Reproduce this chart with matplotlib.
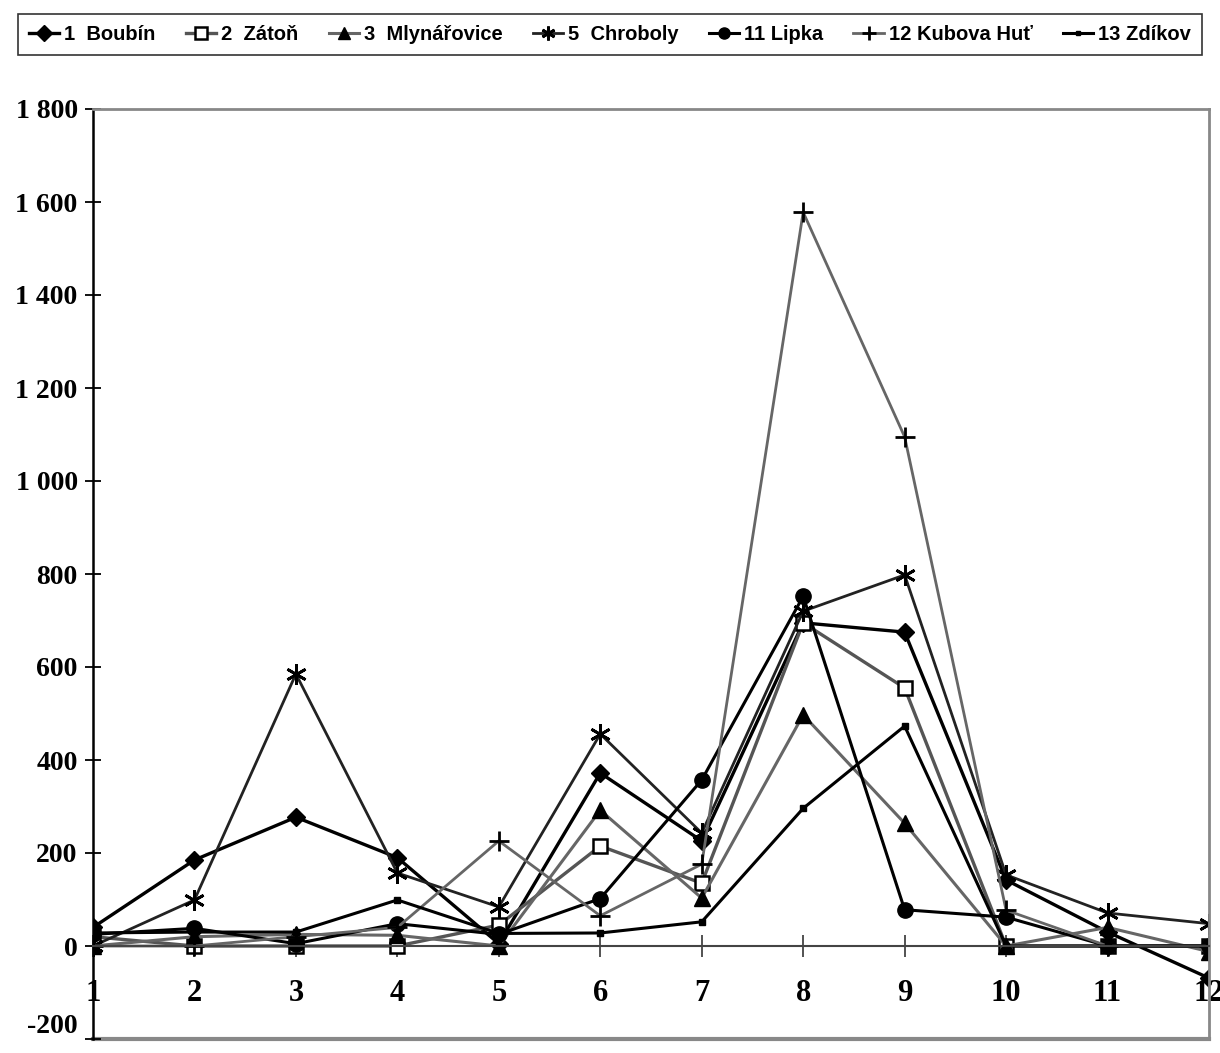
import numpy as np
import matplotlib
matplotlib.use('Agg')
import matplotlib.pyplot as plt
from matplotlib import font_manager

# months / sampling points
x = [1, 2, 3, 4, 5, 6, 7, 8, 9, 10, 11, 12]

boubin = [40, 185, 277, 190, 5, 372, 226, 695, 675, 142, 30, -69]
zaton = [20, 0, 0, 0, 45, 215, 135, 695, 555, 0, 0, 0]
mlynarovice = [0, 20, 25, 23, 0, 292, 103, 497, 264, 0, 40, -12]
chroboly = [0, 99, 585, 157, 84, 456, 243, 720, 798, 153, 71, 48]
lipka = [25, 38, 5, 48, 25, 102, 357, 752, 78, 62, 0, 0]
kubova = [0, 0, 20, 40, 226, 65, 176, 1578, 1095, 77, 0, 0]
zdikov = [28, 30, 30, 99, 27, 28, 52, 296, 473, 0, 0, 0]

names = ['1  Boubín', '2  Zátoň', '3  Mlynářovice', '5  Chroboly',
         '11 Lipka', '12 Kubova Huť', '13 Zdíkov']

yticks = [-200, 0, 200, 400, 600, 800, 1000, 1200, 1400, 1600, 1800]

avail = {f.name for f in font_manager.fontManager.ttflist}
legfont = 'Liberation Sans Narrow' if 'Liberation Sans Narrow' in avail else 'Liberation Sans'
tickfont = 'Liberation Serif'

fig = plt.figure(figsize=(12.2, 10.53), dpi=100)
ax = fig.add_axes([93/1220, 1 - 1039/1053, (1209-93)/1220, (1039-109)/1053])

ax.plot(x, boubin, color='black', lw=2.4, marker='D', ms=9, label=names[0])
ax.plot(x, zaton, color='#555555', lw=2.4, marker='s', ms=10, mfc='white',
        mec='black', mew=1.8, label=names[1])
ax.plot(x, mlynarovice, color='#666666', lw=2.2, marker='^', ms=11, mfc='black',
        mec='black', label=names[2])
ax.plot(x, chroboly, color='#222222', lw=2.0, marker=(6, 2, 0), ms=15, mec='black',
        mew=2, label=names[3])
ax.plot(x, lipka, color='black', lw=2.2, marker='o', ms=11, label=names[4])
ax.plot(x, kubova, color='#666666', lw=2.0, marker='+', ms=15, mec='black',
        mew=2, label=names[5])
ax.plot(x, zdikov, color='black', lw=2.2, marker='s', ms=4, label=names[6])

ax.set_xlim(1, 12)
ax.set_ylim(-200, 1800)

# zero line carries the category ticks
ax.spines['bottom'].set_position(('data', 0))
ax.spines['bottom'].set_color('#444444')
ax.spines['bottom'].set_linewidth(1.5)
ax.spines['left'].set_color('black')
ax.spines['left'].set_linewidth(1.8)
for s in ['top', 'right']:
    ax.spines[s].set_color('#888888')
    ax.spines[s].set_linewidth(2)
ax.axhline(-200, color='#888888', lw=3, clip_on=False, zorder=0)

ax.set_xticks(x)
ax.set_xticklabels([str(i) for i in x])
ax.set_yticks(yticks)
ax.set_yticklabels(['{:,}'.format(v).replace(',', ' ') for v in yticks])
ax.tick_params(axis='x', direction='inout', length=16, width=1.3, color='#444444',
               pad=16, labelsize=22)
ax.tick_params(axis='y', direction='inout', length=12, width=1.3, color='black',
               pad=5, labelsize=20)
for lab in ax.get_xticklabels() + ax.get_yticklabels():
    lab.set_fontfamily(tickfont)
    lab.set_fontweight('bold')
ax.get_yticklabels()[0].set_va('bottom')

leg = fig.legend(loc='lower left', bbox_to_anchor=(8/1220, 1 - 65/1053, 1204/1220, 51/1053),
                 mode='expand', ncol=7, frameon=True, fancybox=False, edgecolor='black',
                 handlelength=1.5, handletextpad=0.25, columnspacing=0.4, borderpad=0.55,
                 prop={'family': legfont, 'weight': 'bold', 'size': 14.5})
leg.get_frame().set_linewidth(1.2)
for h, sz in zip(leg.legend_handles, [8, 8, 8, 10, 8, 10, 3.5]):
    h.set_markersize(sz)

plt.savefig('out.png', dpi=100)
